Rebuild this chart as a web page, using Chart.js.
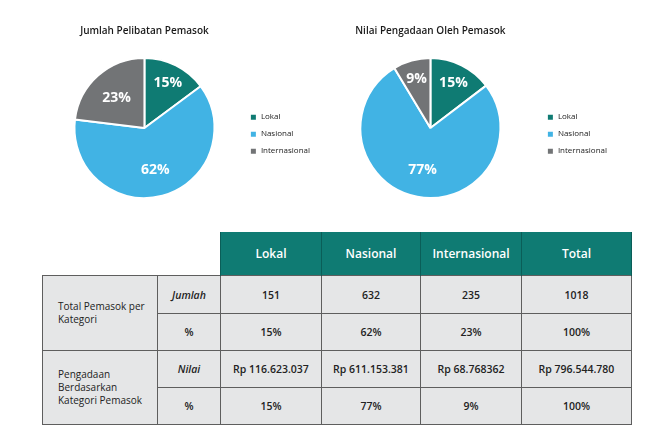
<!DOCTYPE html>
<html>
<head>
<meta charset="utf-8">
<script src="https://cdn.jsdelivr.net/npm/chart.js@4.4.1/dist/chart.umd.min.js"></script>
<style>
  body { margin: 0; background: #fff; font-family: "Open Sans", sans-serif; }
  .pie { position: absolute; top: 0; height: 215px; }
  #left { left: 0; width: 336px; }
  #right { left: 300px; width: 372px; }
  table.data {
    position: absolute; left: 42px; top: 232px;
    border-collapse: collapse; table-layout: fixed;
    font-size: 10.5px; color: #222;
  }
  table.data td, table.data th { padding: 0; text-align: center; }
  table.data th {
    background: #0f7b73; color: #fff; font-weight: 600; font-size: 12px;
    height: 43px; border-left: 1px solid #0a5e58; border-right: 1px solid #0a5e58;
  }
  table.data th.blank { background: #fff; border: none; }
  table.data td {
    background: #e5e6e7; border: 1.5px solid #5e5e5e; font-weight: 600;
  }
  table.data td.lbl { text-align: left; padding-left: 15px; font-weight: 400; font-size: 10px; line-height: 13px; }
  table.data td.sub { font-style: italic; }
</style>
</head>
<body>
<div class="pie" id="left"><canvas id="pieJumlah"></canvas></div>
<div class="pie" id="right"><canvas id="pieNilai"></canvas></div>

<table class="data">
  <colgroup>
    <col style="width:115px"><col style="width:63px"><col style="width:101px">
    <col style="width:99px"><col style="width:101px"><col style="width:110px">
  </colgroup>
  <tr>
    <th class="blank"></th><th class="blank"></th>
    <th>Lokal</th><th>Nasional</th><th>Internasional</th><th>Total</th>
  </tr>
  <tr style="height:38px">
    <td class="lbl" rowspan="2">Total Pemasok per<br>Kategori</td>
    <td class="sub">Jumlah</td><td>151</td><td>632</td><td>235</td><td>1018</td>
  </tr>
  <tr style="height:37px">
    <td>%</td><td>15%</td><td>62%</td><td>23%</td><td>100%</td>
  </tr>
  <tr style="height:37px">
    <td class="lbl" rowspan="2">Pengadaan<br>Berdasarkan<br>Kategori Pemasok</td>
    <td class="sub">Nilai</td><td>Rp 116.623.037</td><td>Rp 611.153.381</td><td>Rp 68.768362</td><td>Rp 796.544.780</td>
  </tr>
  <tr style="height:37px">
    <td>%</td><td>15%</td><td>77%</td><td>9%</td><td>100%</td>
  </tr>
</table>

<script>
const categories = ['Lokal', 'Nasional', 'Internasional'];
const jumlahPemasok = [151, 632, 235];
const nilaiPengadaan = [116623037, 611153381, 68768362];
const colors = ['#0f7b73', '#41b3e4', '#727476'];

// percentage labels inside each slice
const sliceLabels = {
    id: 'sliceLabels',
    afterDatasetsDraw(chart) {
        const ctx = chart.ctx;
        const values = chart.data.datasets[0].data;
        const total = values.reduce((a, b) => a + b, 0);
        chart.getDatasetMeta(0).data.forEach((arc, i) => {
            const p = arc.getProps(['x', 'y', 'startAngle', 'endAngle', 'outerRadius']);
            const mid = (p.startAngle + p.endAngle) / 2;
            const frac = values[i] / total;
            const r = p.outerRadius * (frac < 0.2 ? 0.74 : 0.6);
            ctx.save();
            ctx.fillStyle = '#fff';
            ctx.font = 'bold 14px "Open Sans"';
            ctx.textAlign = 'center';
            ctx.textBaseline = 'middle';
            ctx.fillText(Math.round(frac * 100) + '%', p.x + Math.cos(mid) * r, p.y + Math.sin(mid) * r + 1);
            ctx.restore();
        });
    }
};

function makePie(id, title, values, pad) {
    new Chart(document.getElementById(id), {
        type: 'pie',
        data: {
            labels: categories,
            datasets: [{
                data: values,
                backgroundColor: colors,
                borderColor: '#fff',
                borderWidth: 2
            }]
        },
        options: {
            responsive: true,
            maintainAspectRatio: false,
            animation: false,
            layout: { padding: pad },
            plugins: {
                tooltip: { enabled: false },
                title: {
                    display: true,
                    fullSize: false,
                    text: title,
                    color: '#1a1a1a',
                    font: { family: 'Open Sans', size: 10, weight: '600' },
                    padding: { top: 0, bottom: 20 }
                },
                legend: {
                    position: 'right',
                    fullSize: false,
                    title: { display: true, text: '', font: { size: 2 }, padding: 5 },
                    labels: {
                        boxWidth: 7,
                        boxHeight: 7,
                        padding: 9,
                        color: '#1a1a1a',
                        font: { family: 'Open Sans', size: 8, weight: '500' }
                    }
                }
            }
        },
        plugins: [sliceLabels]
    });
}

makePie('pieJumlah', 'Jumlah Pelibatan Pemasok', jumlahPemasok, { top: 25, bottom: 16, left: 48, right: 16 });
makePie('pieNilai', 'Nilai Pengadaan Oleh Pemasok', nilaiPengadaan, { top: 25, bottom: 16, left: 23, right: 55 });
</script>
</body>
</html>
